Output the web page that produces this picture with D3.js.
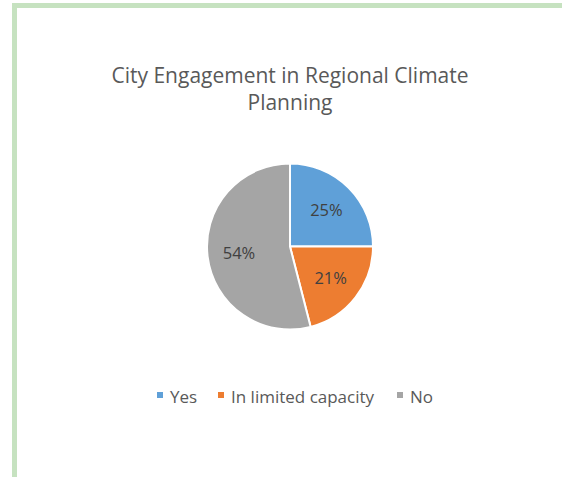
<!DOCTYPE html>
<html>
<head>
<meta charset="utf-8">
<script src="https://cdn.jsdelivr.net/npm/d3@7"></script>
<style>
  body { margin: 0; background: #fff; }
  svg { display: block; }
  text { font-family: "Open Sans", sans-serif; }
</style>
</head>
<body>
<div id="chart"></div>
<script>
var categories = ["Yes", "In limited capacity", "No"];
var values = [25, 21, 54];
var labels = ["25%", "21%", "54%"];
var colors = ["#5FA0D8", "#ED7D31", "#A5A5A5"];
var title_lines = ["City Engagement in Regional Climate", "Planning"];

var width = 562, height = 477;
var cx = 290, cy = 246.5, radius = 83;

var svg = d3.select("#chart")
  .append("svg")
  .attr("width", width)
  .attr("height", height);

//green frame on the left and top
svg.append("rect")
  .attr("x", 12).attr("y", 3)
  .attr("width", 5).attr("height", height - 3)
  .attr("fill", "#c6e2c0");
svg.append("rect")
  .attr("x", 12).attr("y", 3)
  .attr("width", width - 12).attr("height", 5)
  .attr("fill", "#c6e2c0");

//title
svg.append("text")
  .attr("x", cx)
  .attr("y", 83)
  .attr("text-anchor", "middle")
  .style("font-size", "21px")
  .style("fill", "#595959")
  .selectAll("tspan")
  .data(title_lines)
  .enter()
  .append("tspan")
  .attr("x", cx)
  .attr("dy", function(d, i){ return i === 0 ? 0 : 27; })
  .text(function(d){ return d; });

var pie = d3.pie().sort(null).value(function(d){ return d; });
var arc = d3.arc().innerRadius(0).outerRadius(radius);
var labelArc = d3.arc().innerRadius(radius * 0.62).outerRadius(radius * 0.62);

var g = svg.append("g").attr("transform", "translate(" + cx + "," + cy + ")");
var slices = pie(values);

g.selectAll("path")
  .data(slices)
  .enter()
  .append("path")
  .attr("d", arc)
  .attr("fill", function(d, i){ return colors[i]; })
  .attr("stroke", "#fff")
  .attr("stroke-width", 2);

g.selectAll("text")
  .data(slices)
  .enter()
  .append("text")
  .attr("transform", function(d){ return "translate(" + labelArc.centroid(d) + ")"; })
  .attr("text-anchor", "middle")
  .attr("dy", "0.35em")
  .style("font-size", "16.5px")
  .style("fill", "#404040")
  .text(function(d, i){ return labels[i]; });

//legend
var legendX = [157, 218, 397];
var legend = svg.append("g").attr("transform", "translate(0, 397)");
var items = legend.selectAll("g")
  .data(categories)
  .enter()
  .append("g")
  .attr("transform", function(d, i){ return "translate(" + legendX[i] + ",0)"; });
items.append("rect")
  .attr("x", 0).attr("y", -5)
  .attr("width", 6).attr("height", 6)
  .attr("fill", function(d, i){ return colors[i]; });
items.append("text")
  .attr("x", 13)
  .attr("y", 6)
  .style("font-size", "17px")
  .style("fill", "#595959")
  .text(function(d){ return d; });
</script>
</body>
</html>
